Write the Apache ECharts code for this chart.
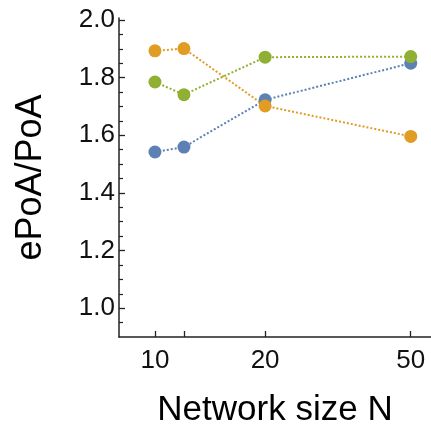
<!DOCTYPE html>
<html>
<head>
<meta charset="utf-8">
<script src="https://cdn.jsdelivr.net/npm/echarts@6/dist/echarts.min.js"></script>
<style>
html,body{margin:0;padding:0;background:#fff;}
#chart{width:431px;height:428px;}
</style>
</head>
<body>
<div id="chart"></div>
<script>
// network sizes on the x axis
var sizes = [10, 12, 20, 50];
var xLabels = [10, 20, 50];
var yLabels = [1.0, 1.2, 1.4, 1.6, 1.8, 2.0];
var yMinor = [0.95, 1.05, 1.1, 1.15, 1.25, 1.3, 1.35, 1.45, 1.5, 1.55, 1.65, 1.7, 1.75, 1.85, 1.9, 1.95];

var blueVals = [1.542, 1.559, 1.723, 1.850];
var orangeVals = [1.893, 1.901, 1.702, 1.596];
var greenVals = [1.785, 1.741, 1.871, 1.873];

function pairs(vals) {
    var out = [];
    for (var i = 0; i < sizes.length; i++) {
        out.push([sizes[i], vals[i]]);
    }
    return out;
}

function mkSeries(name, vals, color) {
    return {
        name: name,
        type: 'line',
        data: pairs(vals),
        symbol: 'circle',
        symbolSize: 13,
        itemStyle: {color: color},
        lineStyle: {color: color, width: 2, type: [2, 2]},
        emphasis: {disabled: true},
        animation: false
    };
}

var font = '"Liberation Sans", Arial, sans-serif';
var chart = echarts.init(document.getElementById('chart'));
chart.setOption({
    animation: false,
    grid: {left: 119, right: 0, top: 18, bottom: 91, outerBoundsMode: 'none', containLabel: false},
    xAxis: {
        type: 'log',
        logBase: 10,
        min: 7.975,
        max: 56.8,
        name: 'Network size N',
        nameLocation: 'middle',
        nameGap: 56,
        nameTextStyle: {fontFamily: font, fontSize: 35, color: '#000'},
        axisLine: {lineStyle: {color: '#222', width: 1.5}},
        axisTick: {inside: true, length: 6, customValues: sizes, lineStyle: {color: '#222', width: 1.3}},
        axisLabel: {customValues: xLabels, fontFamily: font, fontSize: 26, color: '#111', margin: 11},
        splitLine: {show: false},
        minorTick: {show: false}
    },
    yAxis: [{
        type: 'value',
        min: 0.9,
        max: 2.007,
        name: 'ePoA/PoA',
        nameLocation: 'middle',
        nameGap: 70,
        nameTextStyle: {fontFamily: font, fontSize: 36, color: '#000'},
        axisLine: {show: true, lineStyle: {color: '#222', width: 1.5}},
        axisTick: {show: true, inside: true, length: 6, customValues: yLabels, lineStyle: {color: '#222', width: 1.3}},
        axisLabel: {customValues: yLabels, fontFamily: font, fontSize: 26, color: '#111', margin: 4,
            formatter: function(v) { return v.toFixed(1); }},
        splitLine: {show: false}
    }, {
        type: 'value',
        position: 'left',
        min: 0.9,
        max: 2.007,
        axisLine: {show: false},
        axisTick: {show: true, inside: true, length: 4, customValues: yMinor, lineStyle: {color: '#222', width: 1.2}},
        axisLabel: {show: false},
        splitLine: {show: false}
    }],
    series: [
        mkSeries('blue', blueVals, '#5E81B5'),
        mkSeries('orange', orangeVals, '#E19C24'),
        mkSeries('green', greenVals, '#8FB032')
    ]
});
</script>
</body>
</html>
